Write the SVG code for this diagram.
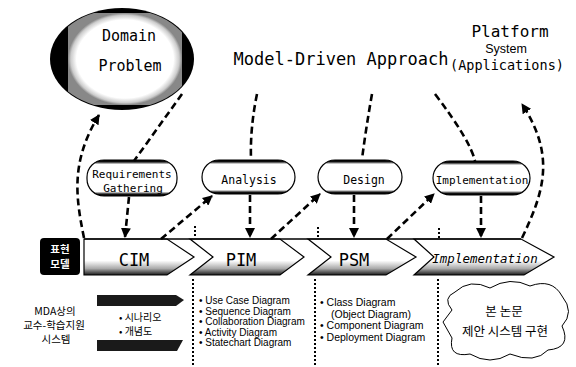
<svg xmlns="http://www.w3.org/2000/svg" width="576" height="367" viewBox="0 0 576 367">
<defs>
<style>
.mono{font-family:"DejaVu Sans Mono","Liberation Mono",monospace;fill:#000}
.sans{font-family:"Liberation Sans","Noto Sans CJK KR",sans-serif;fill:#000}
.kr{font-family:"Noto Sans CJK KR",sans-serif;fill:#000}
.dash{fill:none;stroke:#000;stroke-width:2.6;stroke-dasharray:7 4}
.dot{fill:none;stroke:#000;stroke-width:2;stroke-dasharray:2 2}
.oval{fill:url(#ovalG);stroke:#000;stroke-width:1.2}
.chev{fill:url(#bandG);stroke:#000;stroke-width:1.2;stroke-linejoin:miter}
</style>
<linearGradient id="ovalG" x1="0" y1="0" x2="0" y2="1">
<stop offset="0" stop-color="#000"/><stop offset="0.05" stop-color="#111"/><stop offset="0.12" stop-color="#fff"/>
<stop offset="0.88" stop-color="#fff"/><stop offset="0.95" stop-color="#111"/><stop offset="1" stop-color="#000"/>
</linearGradient>
<linearGradient id="bandG" x1="0" y1="0" x2="0" y2="1">
<stop offset="0" stop-color="#fff"/><stop offset="0.6" stop-color="#fff"/><stop offset="0.82" stop-color="#aaa"/><stop offset="1" stop-color="#1a1a1a"/>
</linearGradient>
<radialGradient id="domG" cx="0.5" cy="0.5" r="0.5">
<stop offset="0" stop-color="#fff"/><stop offset="0.85" stop-color="#fff"/><stop offset="0.95" stop-color="#ccc"/><stop offset="1" stop-color="#888"/>
</radialGradient>
<clipPath id="domClip"><ellipse cx="122" cy="59" rx="71" ry="50"/></clipPath>
<marker id="ah" markerUnits="userSpaceOnUse" markerWidth="10" markerHeight="10" refX="9" refY="5" orient="auto" viewBox="0 0 10 10">
<path d="M0,0 L10,5 L0,10 z" fill="#000"/>
</marker>
</defs>
<rect width="576" height="367" fill="#fff"/>

<g id="domain-problem">
<ellipse cx="122" cy="59" rx="72" ry="51" fill="#000"/>
<rect x="68" y="13" width="114" height="92" rx="10" fill="url(#domG)" clip-path="url(#domClip)"/>
<text class="mono" x="129" y="41" font-size="15" text-anchor="middle">Domain</text>
<text class="mono" x="130" y="71" font-size="15" text-anchor="middle">Problem</text>
</g>

<g id="model-driven-approach">
<text class="mono" x="341" y="65" font-size="17" text-anchor="middle">Model-Driven Approach</text>
</g>

<g id="platform">
<text class="mono" x="510" y="37" font-size="16" text-anchor="middle">Platform</text>
<text class="sans" x="506" y="53" font-size="12.5" text-anchor="middle">System</text>
<text class="mono" x="507" y="70" font-size="13.5" text-anchor="middle">(Applications)</text>
</g>

<g id="req-gathering">
<rect class="oval" x="87" y="160" width="90" height="36" rx="17"/>
<text class="mono" x="132" y="178" font-size="11" text-anchor="middle">Requirements</text>
<text class="mono" x="133" y="192" font-size="11" text-anchor="middle">Gathering</text>
</g>
<g id="analysis">
<rect class="oval" x="202" y="160" width="93" height="34" rx="17"/>
<text class="mono" x="249" y="184" font-size="11.5" text-anchor="middle">Analysis</text>
</g>
<g id="design">
<rect class="oval" x="318" y="160" width="84" height="34" rx="17"/>
<text class="mono" x="364" y="184" font-size="11.5" text-anchor="middle">Design</text>
</g>
<g id="implementation">
<rect class="oval" x="433" y="161" width="97" height="34" rx="17"/>
<text class="mono" x="482" y="184" font-size="11" text-anchor="middle">Implementation</text>
</g>

<g id="label-model">
<rect x="40" y="238" width="40" height="37" rx="4" fill="#000"/>
<text class="kr" x="60" y="253" font-size="10.5" font-weight="bold" text-anchor="middle" style="fill:#fff">표현</text>
<text class="kr" x="60" y="268" font-size="10.5" font-weight="bold" text-anchor="middle" style="fill:#fff">모델</text>
</g>

<g id="cim">
<polygon class="chev" points="84,239 167,239 194,257 167,275 84,275"/>
<text class="mono" x="134" y="266" font-size="17" text-anchor="middle">CIM</text>
</g>
<g id="pim">
<polygon class="chev" points="190,239 280,239 304,257 280,275 190,275 213,257"/>
<text class="mono" x="241" y="266" font-size="17" text-anchor="middle">PIM</text>
</g>
<g id="psm">
<polygon class="chev" points="308,239 386,239 416,257 386,275 308,275 331,257"/>
<text class="mono" x="354" y="266" font-size="17" text-anchor="middle">PSM</text>
</g>
<g id="impl-model">
<polygon class="chev" points="414,239 521,239 554,257 524,275 414,275 434,257"/>
<text class="mono" x="485" y="263" font-size="12.5" font-style="italic" text-anchor="middle">Implementation</text>
</g>
<line x1="84" y1="239" x2="521" y2="239" stroke="#000" stroke-width="1.5"/>

<g id="connectors">
<path class="dash" d="M84,238 C76,198 70,162 99,115" marker-end="url(#ah)"/>
<path class="dash" d="M182,94 L134,161"/>
<path class="dash" d="M129,197 L125,237" marker-end="url(#ah)"/>
<path class="dash" d="M161,239 L212,196" marker-end="url(#ah)"/>
<path class="dash" d="M257,94 Q250,128 251,159"/>
<path class="dash" d="M250,195 L250,237" marker-end="url(#ah)"/>
<path class="dash" d="M271,239 L320,194" marker-end="url(#ah)"/>
<path class="dash" d="M372,94 Q366,128 362,159"/>
<path class="dash" d="M354,195 L354,237" marker-end="url(#ah)"/>
<path class="dash" d="M387,239 L434,194" marker-end="url(#ah)"/>
<path class="dash" d="M435,94 Q470,140 475,161"/>
<path class="dash" d="M481,196 L481,237" marker-end="url(#ah)"/>
<path class="dash" d="M522,238 C545,190 555,155 522,104" marker-end="url(#ah)"/>
<path class="dot" d="M195,226 V238 M318,227 V238 M439,228 V238"/>
<path class="dot" d="M193,279 V367 M315,279 V367 M438,279 V367"/>
</g>

<g id="mda-system">
<text class="kr" x="55" y="315" font-size="10.5" text-anchor="middle">MDA상의</text>
<text class="kr" x="54" y="329" font-size="10.5" text-anchor="middle">교수-학습지원</text>
<text class="kr" x="56" y="343" font-size="10.5" text-anchor="middle">시스템</text>
</g>
<g id="cim-items">
<polygon points="97,295 176,295 184,300 176,306 97,306" fill="#1a1a1a"/>
<polygon points="97,340 183,340 177,351 97,351" fill="#1a1a1a"/>
<text class="kr" x="119" y="321" font-size="10">• 시나리오</text>
<text class="kr" x="119" y="335" font-size="10">• 개념도</text>
</g>
<g id="pim-items">
<text class="sans" x="199" y="304" font-size="10">• Use Case Diagram</text>
<text class="sans" x="199" y="314.5" font-size="10">• Sequence Diagram</text>
<text class="sans" x="199" y="325" font-size="10">• Collaboration Diagram</text>
<text class="sans" x="199" y="335.5" font-size="10">• Activity Diagram</text>
<text class="sans" x="199" y="346" font-size="10">• Statechart Diagram</text>
</g>
<g id="psm-items">
<text class="sans" x="320" y="306" font-size="10.5">• Class Diagram</text>
<text class="sans" x="331" y="317.5" font-size="10.5">(Object Diagram)</text>
<text class="sans" x="320" y="329" font-size="10.5">• Component Diagram</text>
<text class="sans" x="320" y="341" font-size="10.5">• Deployment Diagram</text>
</g>
<g id="proposal-cloud">
<path d="M455,292 Q470,278 490,288 Q510,276 530,286 Q552,278 562,296 Q575,312 562,326 Q572,348 548,350 Q535,364 510,354 Q490,366 470,354 Q448,358 452,338 L443,322 L452,310 Q442,298 455,292 Z" fill="none" stroke="#000" stroke-width="1"/>
<text class="kr" x="504" y="316" font-size="12.5" text-anchor="middle">본 논문</text>
<text class="kr" x="505" y="336" font-size="12.5" text-anchor="middle">제안 시스템 구현</text>
</g>
</svg>
